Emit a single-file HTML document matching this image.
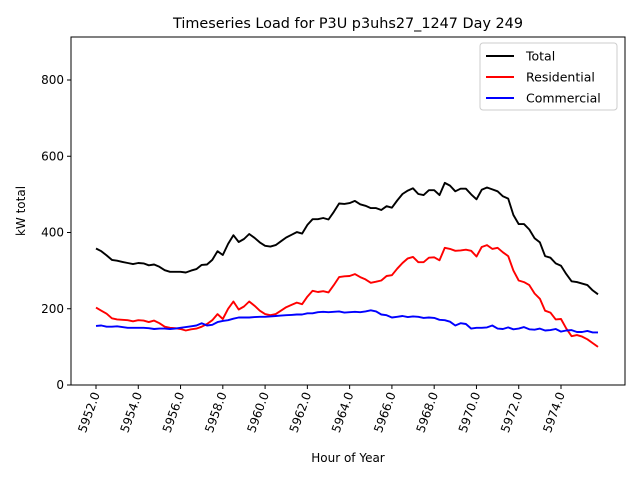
<!DOCTYPE html>
<html><head><meta charset="utf-8"><style>body{margin:0;background:#fff}svg{font-family:"DejaVu Sans","Liberation Sans",sans-serif}</style></head>
<body>
<svg id="c" width="640" height="480"></svg>
<script>
const startHour = 5952;
const stepHour = 0.25;
const residential = [203,195,187,175,172,171,170,167,170,169,165,169,162,153,150,149,147,143,146,148,153,160,170,186,173,200,219,198,206,219,208,195,186,183,186,195,204,210,216,212,232,247,244,246,243,262,283,285,286,291,283,277,268,271,274,286,288,305,320,332,336,322,322,334,335,327,360,357,352,353,355,352,337,362,367,357,360,348,338,300,274,270,262,240,226,195,190,172,173,148,128,131,127,120,110,100];
const commercial = [155,156,153,153,154,152,150,150,150,150,149,147,148,148,147,148,150,152,154,156,162,156,158,165,168,170,174,177,177,177,178,179,179,180,181,182,183,184,185,185,188,188,191,192,191,192,193,190,191,192,191,193,196,193,185,183,177,179,181,178,180,179,176,177,176,171,170,166,156,162,160,148,150,150,151,156,148,147,151,146,148,152,146,145,148,143,144,147,140,143,144,139,139,142,138,138];
const yTicks = [0,200,400,600,800];
const xTicks = [5952,5954,5956,5958,5960,5962,5964,5966,5968,5970,5972,5974];
const total = residential.map((r,i)=>r+commercial[i]);
const NS="http://www.w3.org/2000/svg", svg=document.getElementById('c');
const L=71,R=625,T=37,B=385;
const xs=h=>96+(h-5952)*(465/22);
const ys=v=>B-v*(305/800);
function mk(t,a,p){const e=document.createElementNS(NS,t);for(const k in a)e.setAttribute(k,a[k]);(p||svg).appendChild(e);return e;}
let e;
e=mk('rect',{x:L,y:T,width:R-L,height:B-T,fill:'none',stroke:'#000','stroke-width':1});


yTicks.forEach(v=>{
 mk('line',{x1:L-4,x2:L,y1:ys(v),y2:ys(v),stroke:'#000'});
 e=mk('text',{x:L-7,y:ys(v)+4,'text-anchor':'end','font-size':12});e.textContent=v;
 
 
});
xTicks.forEach(h=>{
 const x=xs(h);
 mk('line',{x1:x,x2:x,y1:B,y2:B+4,stroke:'#000'});
 e=mk('text',{x:0,y:0,'text-anchor':'end','font-size':12,transform:`translate(${x+4},${B+9}) rotate(-70)`});e.textContent=h.toFixed(1);
 
 
});
function line(arr,col,name){
 const d=arr.map((v,i)=>(i?'L':'M')+xs(startHour+i*stepHour).toFixed(1)+' '+ys(v).toFixed(1)).join(' ');
 const p=mk('path',{d,fill:'none',stroke:col,'stroke-width':1.9,'stroke-linejoin':'round'});
 
 
}
line(total,'#000','total-line');
line(residential,'#f00','residential-line');
line(commercial,'#00f','commercial-line');
e=mk('text',{x:348,y:28,'text-anchor':'middle','font-size':14.4});e.textContent='Timeseries Load for P3U p3uhs27_1247  Day 249';


e=mk('text',{x:348,y:462,'text-anchor':'middle','font-size':12});e.textContent='Hour of Year';


e=mk('text',{x:0,y:0,'text-anchor':'middle','font-size':12,transform:'translate(25,211) rotate(-90)'});e.textContent='kW total';


const lg=mk('g',{});


mk('rect',{x:480,y:43,width:137,height:67,rx:3,fill:'#fff',stroke:'#ccc'},lg);
[['Total','#000'],['Residential','#f00'],['Commercial','#00f']].forEach((s,i)=>{
 const y=56+i*21;
 mk('line',{x1:486,x2:514,y1:y,y2:y,stroke:s[1],'stroke-width':1.9},lg);
 const t=mk('text',{x:526,y:y+4.5,'font-size':12.5},lg);t.textContent=s[0];
 
 
});
</script>
</body></html>
